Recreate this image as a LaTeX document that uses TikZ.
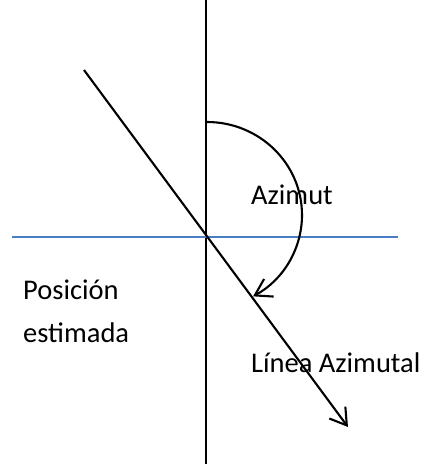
\documentclass[tikz,border=0pt]{standalone}
\usepackage{fontspec}
\setmainfont{Carlito}
\usetikzlibrary{arrows.meta}
\definecolor{officeblue}{HTML}{4A7EC4}
\begin{document}
\begin{tikzpicture}[x=1pt,y=-1pt,
  blk/.style={line width=2.1pt,black},
  tip/.style={-{Straight Barb[length=16pt,width=20pt,line width=2.1pt]}},
  lbl/.style={anchor=base west,inner sep=0pt,font=\fontsize{28.5}{32}\selectfont}]
\useasboundingbox (0,0) rectangle (424,464);
% axes
\coordinate (vtop) at (206,0);
\coordinate (vbot) at (206,464);
\coordinate (hl) at (12,237);
\coordinate (hr) at (398,237);
\draw[blk] (vtop) -- (vbot);
\draw[officeblue,line width=1.6pt] (hl) -- (hr);
% azimuth line
\coordinate (dstart) at (84,70);
\coordinate (dend) at (348,427);
\draw[blk,tip] (dstart) -- (dend);
% arc
\coordinate (arcstart) at (207,122);
\draw[blk,tip] (arcstart) arc[start angle=90,end angle=-61,x radius=95,y radius=-93];
% labels
\node[lbl] (az) at (251,204) {Azimut};
\node[lbl] (pos) at (23,299) {Posición};
\node[lbl] (est) at (23,342) {estimada};
\node[lbl] (la) at (251,372) {Línea Azimutal};
\end{tikzpicture}
\end{document}
